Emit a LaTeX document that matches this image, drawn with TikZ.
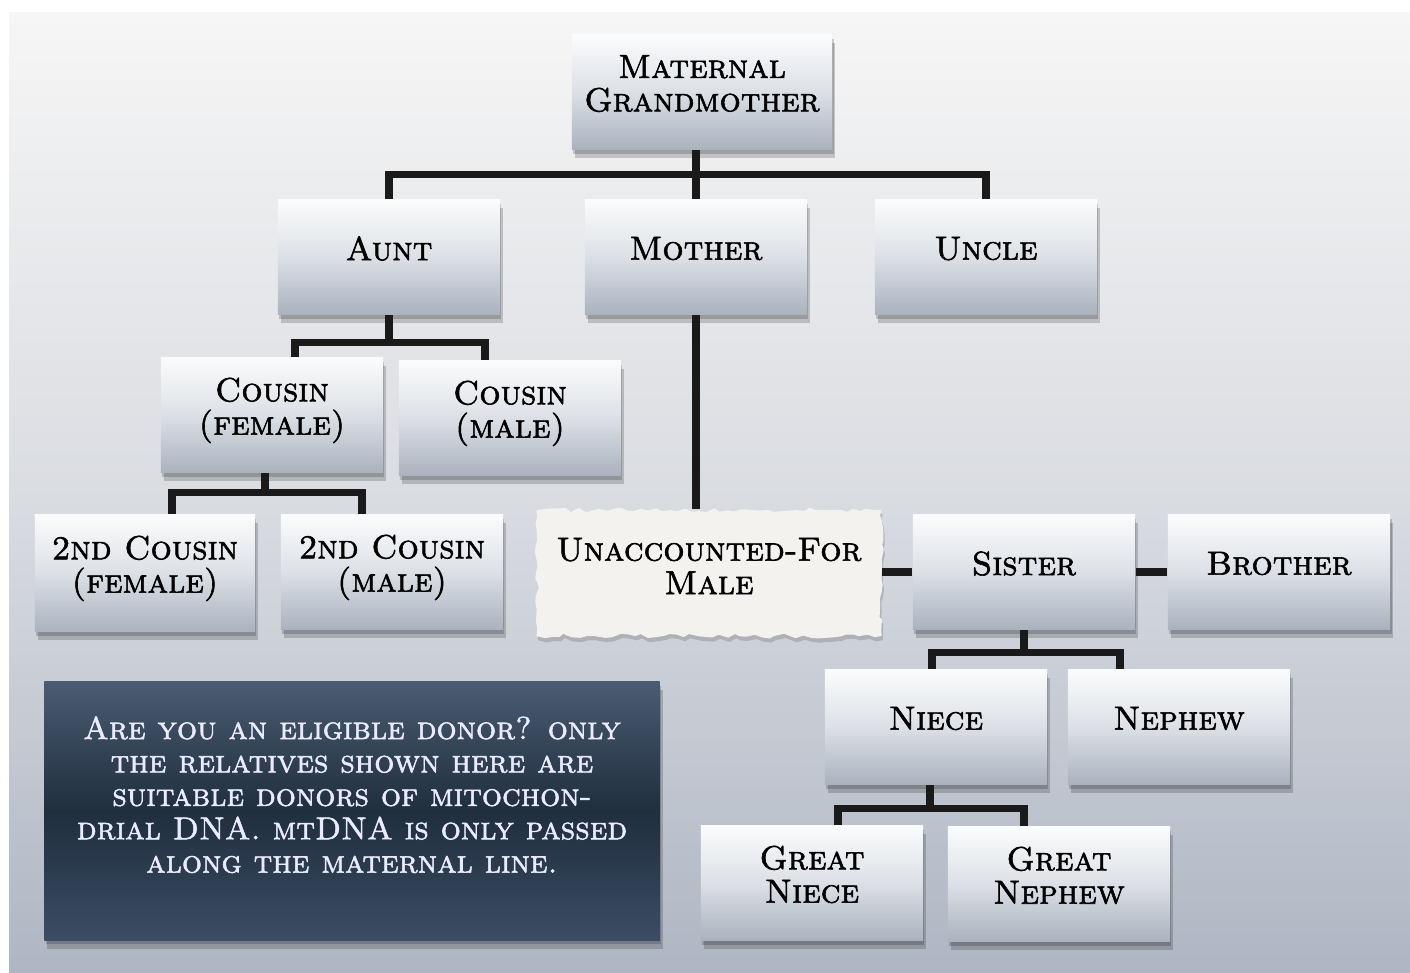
\documentclass[tikz,border=0pt]{standalone}
\usepackage{fontspec}
\newfontfamily\capsfont{lmromancaps10-regular.otf}[FakeBold=1.7]
\usetikzlibrary{shadows,decorations.pathmorphing,calc}
\definecolor{bgtop}{HTML}{F6F6F6}
\definecolor{bgbot}{HTML}{AFB6C3}
\definecolor{boxtop}{HTML}{FBFCFD}
\definecolor{boxmid}{HTML}{DCE0E6}
\definecolor{boxbot}{HTML}{AAB2BE}
\definecolor{notetop}{HTML}{4B5B72}
\definecolor{notemid}{HTML}{1F2F3E}
\definecolor{notebot}{HTML}{3C4C64}
\definecolor{paper}{HTML}{F4F2EF}
\definecolor{linkc}{HTML}{1A1A1A}
\tikzset{
  px/.style={x=0.01cm,y=-0.01cm},
  softshadow/.style={
    general shadow={shadow xshift=0.4pt, shadow yshift=-1.2pt, fill=black, opacity=0.18},
    general shadow={shadow xshift=0.8pt, shadow yshift=-2.4pt, fill=black, opacity=0.18}},
  box/.style={minimum width=2.22cm, minimum height=1.15cm, inner sep=0pt,
    top color=boxtop, bottom color=boxbot, middle color=boxmid, softshadow,
    font=\capsfont\fontsize{9.5}{9.5}\selectfont, align=center, text=black, text depth=5pt},
  link/.style={line width=2.1pt, draw=linkc},
}
\begin{document}
\begin{tikzpicture}[px]
\useasboundingbox (0,0) rectangle (1410,972);
\fill[white] (0,0) rectangle (1410,972);
\shade[top color=bgtop, bottom color=bgbot, middle color=bgtop!60!bgbot] (9,12) rectangle (1410,972);

\node[box, minimum width=2.60cm] (gm) at (702,92) {Maternal\\Grandmother};
\node[box] (aunt) at (389,257) {Aunt};
\node[box] (mother) at (696,257) {Mother};
\node[box] (uncle) at (986,257) {Uncle};
\node[box] (cf) at (272,415) {Cousin\\(female)};
\node[box] (cm) at (510,418) {Cousin\\(male)};
\node[box, minimum width=2.20cm, minimum height=1.17cm] (scf) at (145,573) {2nd Cousin\\(female)};
\node[box] (scm) at (392,572) {2nd Cousin\\(male)};
\node[minimum width=3.45cm, minimum height=1.26cm, inner sep=0pt, fill=paper,
  decorate, decoration={random steps, segment length=2pt, amplitude=0.7pt},
  general shadow={shadow xshift=0.4pt, shadow yshift=-1.2pt, fill=black, opacity=0.15},
  font=\capsfont\fontsize{9.5}{9.5}\selectfont, align=center, text depth=4pt] (um) at (709,573) {Unaccounted-For\\Male};
\node[box] (sister) at (1024,572) {Sister};
\node[box] (brother) at (1279,572) {Brother};
\node[box] (niece) at (936,727) {Niece};
\node[box] (nephew) at (1179,727) {Nephew};
\node[box] (gniece) at (812,883) {Great\\Niece};
\node[box] (gnephew) at (1059,884) {Great\\Nephew};
\node[minimum width=6.15cm, minimum height=2.58cm, inner sep=0pt,
  top color=notetop, bottom color=notebot, middle color=notemid, softshadow,
  font=\capsfont\fontsize{9}{9.5}\selectfont, align=center, text=white!92!blue, text depth=0.33cm] (note) at (352,811)
  {Are you an eligible donor? only\\the relatives shown here are\\suitable donors of mitochon-\\drial DNA. mtDNA is only passed\\along the maternal line.};

% maternal grandmother to children
\draw[link] ($(mother.north)+(0,-24)$) coordinate (j1) -- (mother.north);
\draw[link] (gm.south -| mother.north) -- (j1);
\draw[link] (aunt.north) |- (j1) -| (uncle.north);
% aunt to cousins
\draw[link] (aunt.south) -- ++(0,27) coordinate (j2);
\draw[link] ($(cf.north)+(23,0)$) |- (j2) -| ($(cm.north)+(-25,0)$);
% cousin female to second cousins
\draw[link] ($(cf.south)+(-7,0)$) -- ++(0,19) coordinate (j3);
\draw[link] ($(scf.north)+(27,0)$) |- (j3) -| ($(scm.north)+(-30,0)$);
% mother to unaccounted-for male
\draw[link] (mother.south) -- (um.north -| mother.south);
% siblings
\draw[link] (um.east |- sister.west) -- (sister.west);
\draw[link] (sister.east) -- (brother.west);
% sister to niece / nephew
\draw[link] (sister.south) -- ++(0,22) coordinate (j4);
\draw[link] ($(niece.north)+(-4,0)$) |- (j4) -| ($(nephew.north)+(-59,0)$);
% niece to great niece / nephew
\draw[link] ($(niece.south)+(-6,0)$) -- ++(0,23) coordinate (j5);
\draw[link] ($(gniece.north)+(26,0)$) |- (j5) -| ($(gnephew.north)+(-35,0)$);
\end{tikzpicture}
\end{document}
